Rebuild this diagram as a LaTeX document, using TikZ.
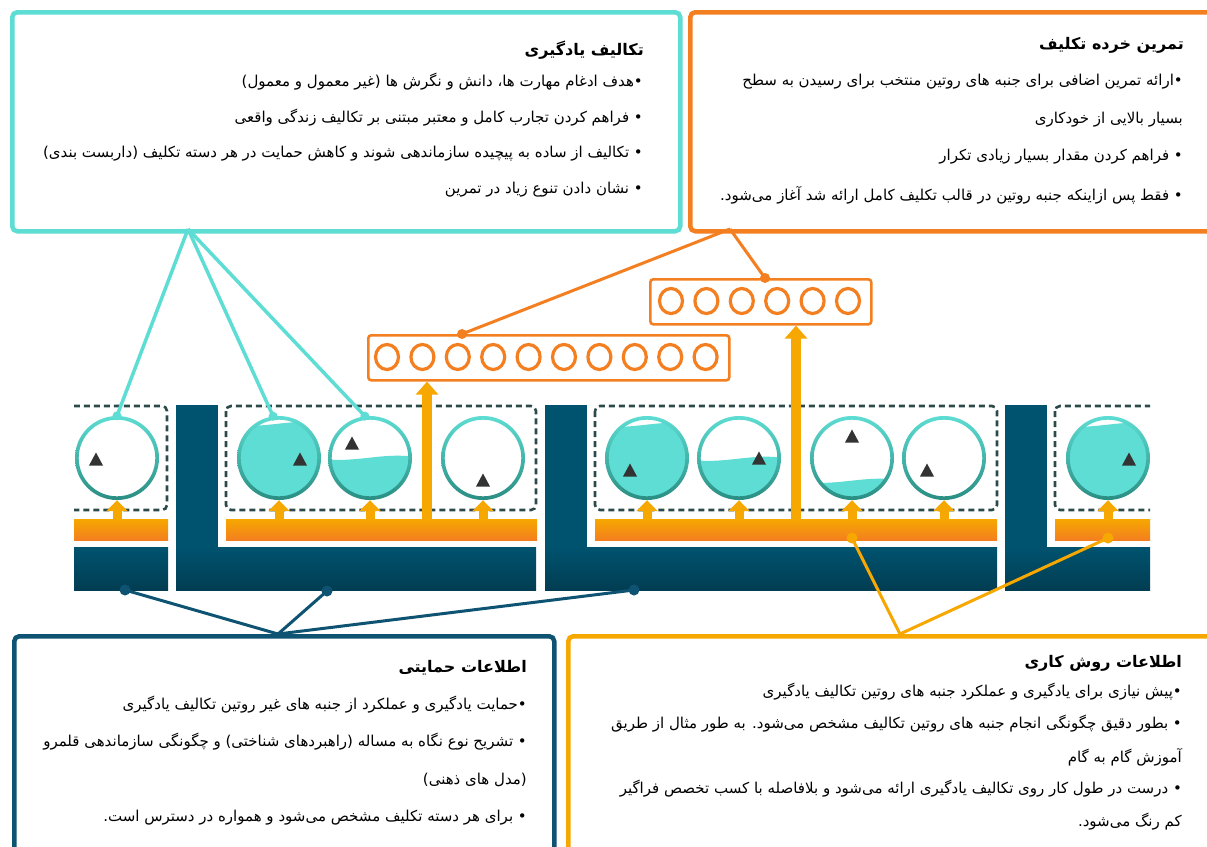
\documentclass[tikz,border=0pt]{standalone}
\usepackage{fontspec}
\usetikzlibrary{calc,arrows.meta}
\newfontfamily\pf[Script=Arabic]{DejaVu Sans}
\TeXXeTstate=1
\definecolor{tealL}{HTML}{5DDDD3}
\definecolor{tealD}{HTML}{2A8D82}
\definecolor{orng}{HTML}{F47F20}
\definecolor{amb}{HTML}{F6A800}
\definecolor{navy}{HTML}{00536F}
\definecolor{navyD}{HTML}{023D52}
\definecolor{navyL}{HTML}{0E5372}
\definecolor{dashc}{HTML}{2C4A4A}
\definecolor{trig}{HTML}{333333}
\newcommand\rl[1]{\beginR #1\endR}
\tikzset{
  bdy/.style={anchor=east, inner sep=0pt, font=\pf\fontsize{15}{18}\selectfont, text=black},
  ttl/.style={anchor=east, inner sep=0pt, font=\pf\bfseries\fontsize{16}{19}\selectfont, text=black},
  bigbox/.style={draw=#1, line width=4.5pt, rounded corners=5pt, anchor=north west, inner sep=0pt, fill=white},
  obox/.style={draw=orng, line width=2.6pt, rounded corners=3pt, anchor=north west, inner sep=0pt},
  dbox/.style={draw=dashc, line width=2.6pt, rounded corners=5pt, dash pattern=on 6pt off 4pt},
  ring/.style={draw=orng, line width=3.2pt},
  bigarrow/.style={draw=amb, line width=10pt, -{Triangle[width=22pt,length=13pt]}},
  smallarrow/.style={draw=amb, line width=9pt, -{Triangle[width=21pt,length=11pt]}},
  tline/.style={draw=tealL, line width=3.5pt},
  oline/.style={draw=orng, line width=3pt},
  nline/.style={draw=navyL, line width=3pt},
  aline/.style={draw=amb, line width=3pt},
  navybar/.style={top color=navy, bottom color=navyD},
  orangebar/.style={top color=amb, bottom color=orng},
  tankc/.style={circle, minimum size=84pt, inner sep=0pt}
}
% #1 name, #2 centre, #3 water level offset (99 = empty), #4 triangle offset
\newcommand\tank[4]{%
  \node[tankc] (#1) at (#2) {};
  \ifnum #3<90
    \begin{scope}
      \clip (#1.center) circle (40);
      \fill[tealL] ($(#1.center)+(-45,#3)$) .. controls +(30,4) and +(-30,-5) .. ++(90,-2) -- ++(0,80) -- ++(-90,0) -- cycle;
    \end{scope}
  \fi
  \shade[even odd rule, top color=tealL, bottom color=tealD] (#1.center) circle (42) (#1.center) circle (38.3);
  \fill[trig] ($(#1.center)+(#4)$) +(-7,6.5) -- +(7,6.5) -- +(0,-6.5) -- cycle;
}
\begin{document}
\begin{tikzpicture}[x=1pt,y=-1pt]
\useasboundingbox (0,0) rectangle (1207,846);
\fill[white] (0,0) rectangle (1207,846);

% ---------- big boxes ----------
\node[bigbox=tealL, minimum width=668pt, minimum height=219pt] (tlbox) at (10,10) {};
\node[bigbox=orng, minimum width=540pt, minimum height=219pt] (trbox) at (688,10) {};
\node[bigbox=navyL, minimum width=540pt, minimum height=240pt] (blbox) at (12,634) {};
\node[bigbox=amb, minimum width=660pt, minimum height=240pt] (brbox) at (566,634) {};

\node[ttl] (tlT) at (644,50) {\rl{تکالیف یادگیری}};
\node[bdy] (tl1) at (643,82) {\rl{•هدف ادغام مهارت ها، دانش و نگرش ها (غیر معمول و معمول)}};
\node[bdy] (tl2) at (643,118) {\rl{• فراهم کردن تجارب کامل و معتبر مبتنی بر تکالیف زندگی واقعی}};
\node[bdy] (tl3) at (643,154) {\rl{• تکالیف از ساده به پیچیده سازماندهی شوند و کاهش حمایت در هر دسته تکلیف (داربست بندی)}};
\node[bdy] (tl4) at (643,190) {\rl{• نشان دادن تنوع زیاد در تمرین}};

\node[ttl] (trT) at (1184,45) {\rl{تمرین خرده تکلیف}};
\node[bdy] (tr1) at (1183,82) {\rl{•ارائه تمرین اضافی برای جنبه های روتین منتخب برای رسیدن به سطح}};
\node[bdy] (tr2) at (1183,120) {\rl{بسیار بالایی از خودکاری}};
\node[bdy] (tr3) at (1183,157) {\rl{• فراهم کردن مقدار بسیار زیادی تکرار}};
\node[bdy] (tr4) at (1183,195) {\rl{• فقط پس ازاینکه جنبه روتین در قالب تکلیف کامل ارائه شد آغاز می‌شود.}};

\node[ttl] (blT) at (527,668) {\rl{اطلاعات حمایتی}};
\node[bdy] (bl1) at (527,705) {\rl{•حمایت یادگیری و عملکرد از جنبه های غیر روتین تکالیف یادگیری}};
\node[bdy] (bl2) at (527,742) {\rl{• تشریح نوع نگاه به مساله (راهبردهای شناختی) و چگونگی سازماندهی قلمرو}};
\node[bdy] (bl3) at (527,780) {\rl{(مدل های ذهنی)}};
\node[bdy] (bl4) at (527,818) {\rl{• برای هر دسته تکلیف مشخص می‌شود و همواره در دسترس است.}};

\node[ttl] (brT) at (1182,663) {\rl{اطلاعات روش کاری}};
\node[bdy] (br1) at (1182,692) {\rl{•پیش نیازی برای یادگیری و عملکرد جنبه های روتین تکالیف یادگیری}};
\node[bdy] (br2) at (1182,724) {\rl{• بطور دقیق چگونگی انجام جنبه های روتین تکالیف مشخص می‌شود. به طور مثال از طریق}};
\node[bdy] (br3) at (1182,757) {\rl{آموزش گام به گام}};
\node[bdy] (br4) at (1182,789) {\rl{• درست در طول کار روی تکالیف یادگیری ارائه می‌شود و بلافاصله با کسب تخصص فراگیر}};
\node[bdy] (br5) at (1182,822) {\rl{کم رنگ می‌شود.}};

% ---------- orange boxes of small circles ----------
\node[obox, minimum width=361pt, minimum height=45pt] (ob1) at (367,334) {};
\node[obox, minimum width=221pt, minimum height=45pt] (ob2) at (649,278) {};
\foreach \i in {0,...,9} \draw[ring] (387+35.4*\i,357) ellipse (11.5 and 12.5);
\foreach \i in {0,...,5} \draw[ring] (671+35.4*\i,301) ellipse (11.5 and 12.5);

% ---------- middle strip: bars and dashed boxes ----------
\begin{scope}
\clip (74,395) rectangle (1150,600);
\shade[navybar] (60,547) rectangle (168,590);
\fill[navy] (176,405) rectangle (218,548);
\shade[navybar] (176,547) rectangle (536,590);
\fill[navy] (545,405) rectangle (587,548);
\shade[navybar] (545,547) rectangle (997,590);
\fill[navy] (1005,405) rectangle (1047,548);
\shade[navybar] (1005,547) rectangle (1170,590);
\draw[dbox] (50,406) rectangle (167,510);
\draw[dbox] (226,406) rectangle (536,510);
\draw[dbox] (595,406) rectangle (997,510);
\draw[dbox] (1055,406) rectangle (1175,510);
\end{scope}

% big arrows up to the orange boxes
\coordinate (ba1) at (427,522);
\coordinate (ba2) at (796,522);
\draw[bigarrow] (ba1) -- (ba1 |- ob1.south);
\draw[bigarrow] (ba2) -- (ba2 |- ob2.south);

% ---------- middle strip: tanks, small arrows, orange bars ----------
\begin{scope}
\clip (74,395) rectangle (1150,600);
\tank{c1}{117,458}{99}{-21,1}
\tank{c2}{279,458}{-33}{21,1}
\tank{c3}{370,458}{1}{-18,-15}
\tank{c4}{483,458}{99}{0,22}
\tank{c5}{647,458}{-32}{-17,12}
\tank{c6}{739,458}{2}{20,0}
\tank{c7}{852,458}{24}{0,-22}
\tank{c8}{944,458}{99}{-17,12}
\tank{c9}{1108,458}{-32}{21,1}
\foreach \c/\x in {c1/117,c2/279,c3/370,c4/483,c5/647,c6/739,c7/852,c8/944,c9/1108}
  \draw[smallarrow] (\x,522) -- (\c.south);
\shade[orangebar] (60,519) rectangle (168,540);
\shade[orangebar] (226,519) rectangle (537,540);
\shade[orangebar] (595,519) rectangle (997,540);
\shade[orangebar] (1055,519) rectangle (1170,540);
\end{scope}

% ---------- connectors ----------
\coordinate (tlS) at (188,229);
\draw[tline] (tlS) -- (c1.north);
\draw[tline] (tlS) -- (c2.98);
\draw[tline] (tlS) -- (c3.97);
\foreach \p in {c1.north,c2.98,c3.97} \fill[tealL] (\p) circle (4.5);

\coordinate (trS) at (730,229);
\coordinate (od1) at (462,334);
\coordinate (od2) at (765,278);
\draw[oline] (trS) -- (od1);
\draw[oline] (trS) -- (od2);
\foreach \p in {od1,od2} \fill[orng] (\p) circle (5);

\coordinate (blS) at (278,634);
\coordinate (nd1) at (125,590);
\coordinate (nd2) at (327,591);
\coordinate (nd3) at (634,590);
\foreach \p in {nd1,nd2,nd3} {\draw[nline] (blS) -- (\p); \fill[navyL] (\p) circle (5.5);}

\coordinate (brS) at (900,634);
\coordinate (ad1) at (852,538);
\coordinate (ad2) at (1108,538);
\foreach \p in {ad1,ad2} {\draw[aline] (brS) -- (\p); \fill[amb] (\p) circle (5.5);}
\end{tikzpicture}
\end{document}
